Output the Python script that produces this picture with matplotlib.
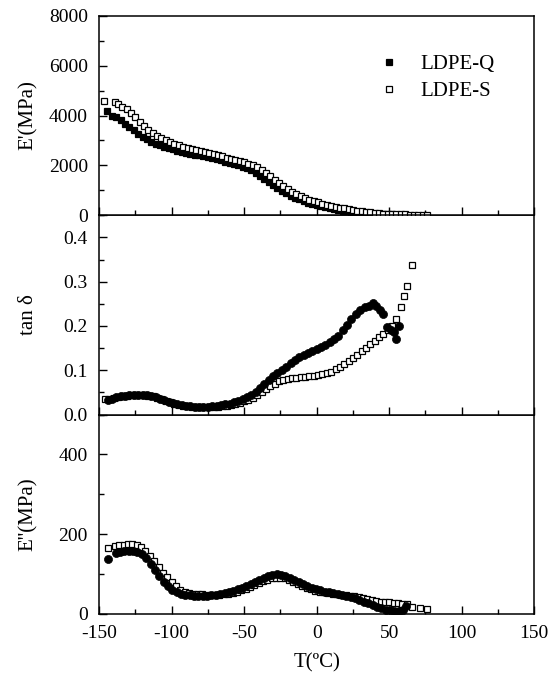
import numpy as np
import matplotlib
matplotlib.use('Agg')
import matplotlib.pyplot as plt
from matplotlib.lines import Line2D
from matplotlib.ticker import MultipleLocator

plt.rcParams['font.family'] = ['Liberation Serif', 'DejaVu Serif']
plt.rcParams['font.size'] = 14
plt.rcParams['axes.unicode_minus'] = False

# storage modulus E' (MPa)
t_eq = [-144.7, -141, -138, -135, -132, -129, -126, -123, -120, -117, -114, -111, -108, -105,
        -102, -99, -96, -93, -90, -87, -84, -81, -78, -75, -72, -69, -66, -63, -60, -57,
        -54, -51, -48, -45, -42, -39, -36, -33, -30, -27, -24, -21, -18, -15, -12, -9,
        -6, -3, 0, 3, 6, 9, 12, 15, 18, 21, 24, 27, 30, 33, 36, 39, 42, 45, 48, 51, 54, 57, 60]
e_q = [4190, 3990, 3950, 3820, 3680, 3540, 3400, 3270, 3150, 3040, 2950, 2870, 2800, 2740,
       2690, 2640, 2590, 2550, 2510, 2470, 2430, 2400, 2360, 2320, 2280, 2240, 2200, 2150,
       2110, 2060, 2010, 1950, 1880, 1800, 1700, 1590, 1470, 1340, 1210, 1090, 980, 880,
       790, 710, 640, 570, 510, 460, 410, 360, 320, 280, 245, 215, 185, 160, 140, 120,
       100, 85, 70, 60, 50, 42, 36, 30, 25, 22, 20]

t_es = [-146.6, -139.3, -137, -134, -131, -128, -125, -122, -119, -116, -113, -110, -107,
        -104, -101, -98, -95, -92, -89, -86, -83, -80, -77, -74, -71, -68, -65, -62, -59,
        -56, -53, -50, -47, -44, -41, -38, -35, -32, -29, -26, -23, -20, -17, -14, -11, -8,
        -5, -2, 1, 4, 7, 10, 13, 16, 19, 22, 25, 28, 31, 34, 37, 40, 43, 46, 49, 52, 55,
        58, 61, 64, 67, 70, 73, 76]
e_s = [4590, 4550, 4450, 4350, 4250, 4100, 3950, 3750, 3580, 3420, 3300, 3180, 3080, 3000,
       2920, 2860, 2800, 2740, 2690, 2640, 2600, 2560, 2520, 2480, 2440, 2400, 2360, 2310,
       2260, 2220, 2170, 2120, 2070, 2000, 1920, 1820, 1700, 1570, 1430, 1300, 1160, 1040,
       930, 840, 760, 690, 620, 570, 520, 470, 420, 380, 340, 300, 270, 240, 215, 185, 160,
       135, 115, 95, 80, 68, 58, 50, 44, 38, 33, 28, 25, 22, 20, 18]

# loss factor tan delta
t_tq = [-144, -141, -138, -135, -132, -129, -126, -123, -120, -117, -114, -111, -108, -105,
        -102, -99, -96, -93, -90, -87, -84, -81, -78, -75, -72, -69, -66, -63, -60, -57,
        -54, -51, -48, -45, -42, -39, -36, -33, -30, -27, -24, -21, -18, -15, -12, -9, -6,
        -3, 0, 3, 6, 9, 12, 15, 18, 21, 24, 27, 30, 33, 36, 38.5, 41, 43.5, 46, 48.5, 51,
        53, 54.5, 57]
tan_q = [0.033, 0.036, 0.039, 0.041, 0.043, 0.044, 0.045, 0.045, 0.045, 0.044, 0.042, 0.039,
         0.036, 0.032, 0.029, 0.026, 0.023, 0.021, 0.020, 0.019, 0.018, 0.018, 0.018, 0.018,
         0.019, 0.020, 0.021, 0.023, 0.025, 0.028, 0.031, 0.035, 0.040, 0.045, 0.052, 0.060,
         0.069, 0.078, 0.086, 0.093, 0.100, 0.108, 0.117, 0.124, 0.129, 0.134, 0.139, 0.143,
         0.148, 0.153, 0.158, 0.164, 0.170, 0.177, 0.190, 0.203, 0.215, 0.226, 0.236, 0.243,
         0.246, 0.251, 0.244, 0.236, 0.228, 0.198, 0.192, 0.186, 0.170, 0.200]

t_ts = [-146, -143, -140, -137, -134, -131, -128, -125, -122, -119, -116, -113, -110, -107,
        -104, -101, -98, -95, -92, -89, -86, -83, -80, -77, -74, -71, -68, -65, -62, -59,
        -56, -53, -50, -47, -44, -41, -38, -35, -32, -29, -26, -23, -20, -17, -14, -11, -8,
        -5, -2, 1, 4, 7, 10, 13, 16, 19, 22, 25, 28, 31, 34, 37, 40, 43, 46, 49, 52, 55, 58,
        60.5, 62.5, 66]
tan_s = [0.036, 0.036, 0.038, 0.040, 0.042, 0.043, 0.044, 0.045, 0.045, 0.044, 0.043, 0.041,
         0.038, 0.035, 0.031, 0.028, 0.025, 0.022, 0.020, 0.019, 0.018, 0.017, 0.017, 0.017,
         0.017, 0.017, 0.018, 0.019, 0.020, 0.022, 0.024, 0.027, 0.030, 0.034, 0.038, 0.044,
         0.050, 0.057, 0.064, 0.070, 0.075, 0.078, 0.080, 0.082, 0.083, 0.084, 0.085, 0.086,
         0.087, 0.089, 0.091, 0.094, 0.097, 0.102, 0.108, 0.114, 0.121, 0.128, 0.135, 0.143,
         0.151, 0.159, 0.167, 0.175, 0.182, 0.190, 0.200, 0.215, 0.242, 0.268, 0.291, 0.338]

# loss modulus E'' (MPa)
t_lq = [-143.5, -138.5, -135.5, -132.5, -129.5, -126.5, -123.5, -120.5, -117.5, -114.5,
        -111.5, -108.5, -105.5, -102.5, -99.5, -96.5, -93.5, -90.5, -87.5, -84.5, -81.5,
        -78.5, -75.5, -72.5, -69.5, -66.5, -63.5, -60.5, -57.5, -54.5, -51.5, -48.5, -45.5,
        -42.5, -39.5, -36.5, -33.5, -30.5, -27.5, -24.5, -21.5, -18.5, -15.5, -12.5, -9.5,
        -6.5, -3.5, -0.5, 2.5, 5.5, 8.5, 11.5, 14.5, 17.5, 20.5, 23.5, 26.5, 29.5, 32.5,
        35.5, 38.5, 41.5, 44.5, 47.5, 50.5, 53.5, 56.5, 59.5, 61.5]
el_q = [137, 152, 155, 157, 158, 158, 156, 150, 140, 126, 110, 95, 81, 70, 61, 55, 51, 48,
        47, 46, 46, 46, 46, 47, 48, 50, 52, 55, 58, 62, 66, 71, 76, 81, 86, 91, 95, 98, 99,
        98, 95, 90, 84, 79, 74, 70, 66, 62, 59, 56, 54, 52, 50, 48, 46, 43, 40, 36, 31, 27,
        22, 18, 14, 11, 9, 8, 8, 9, 19]

t_ls = [-144, -139, -136, -133, -130, -127, -124, -121, -118, -115, -112, -109, -106, -103,
        -100, -97, -94, -91, -88, -85, -82, -79, -76, -73, -70, -67, -64, -61, -58, -55, -52,
        -49, -46, -43, -40, -37, -34, -31, -28, -25, -22, -19, -16, -13, -10, -7, -4, -1, 2,
        5, 8, 11, 14, 17, 20, 23, 26, 29, 32, 35, 38, 41, 44, 47, 50, 53, 56, 59, 62, 65.5,
        71, 76]
el_s = [165, 170, 172, 174, 175, 175, 173, 167, 158, 146, 132, 118, 104, 92, 80, 69, 61, 56,
        53, 51, 50, 49, 48, 47, 47, 48, 49, 50, 52, 55, 59, 63, 68, 73, 78, 82, 86, 89, 91,
        91, 89, 85, 80, 75, 70, 66, 62, 58, 56, 54, 52, 50, 49, 48, 47, 46, 45, 43, 41, 38,
        35, 33, 31, 30, 29, 28, 27, 26, 24, 18, 14, 12]

fig = plt.figure(figsize=(5.51, 6.77), dpi=100)
left, width, h = 0.1797, 0.790, 0.2945
ax3 = fig.add_axes([left, 0.0931, width, h])
ax2 = fig.add_axes([left, 0.0931 + h, width, h], sharex=ax3)
ax1 = fig.add_axes([left, 0.0931 + 2 * h, width, h], sharex=ax3)

sq_open = dict(ls='none', marker='s', ms=4.8, mfc='white', mec='black', mew=0.9)
sq_fill = dict(ls='none', marker='s', ms=4.8, mfc='black', mec='black', mew=0.9)
circ = dict(ls='none', marker='o', ms=5.8, mfc='black', mec='black', mew=0.5)

ax1.plot(t_eq, e_q, **sq_fill)
ax1.plot(t_es, e_s, **sq_open)
ax2.plot(t_ts, tan_s, **sq_open)
ax2.plot(t_tq, tan_q, **circ)
ax3.plot(t_ls, el_s, **sq_open)
ax3.plot(t_lq, el_q, **circ)

ax3.set_xlim(-150, 150)
ax1.set_ylim(0, 8000)
ax2.set_ylim(0, 0.45)
ax3.set_ylim(0, 500)

ax1.yaxis.set_major_locator(MultipleLocator(2000))
ax1.yaxis.set_minor_locator(MultipleLocator(1000))
ax2.set_yticks([0.0, 0.1, 0.2, 0.3, 0.4])
ax2.set_yticklabels(['0.0', '0.1', '0.2', '0.3', '0.4'])
ax2.yaxis.set_minor_locator(MultipleLocator(0.05))
ax3.set_yticks([0, 200, 400])
ax3.yaxis.set_minor_locator(MultipleLocator(100))
ax3.xaxis.set_major_locator(MultipleLocator(50))
ax3.xaxis.set_minor_locator(MultipleLocator(25))

for ax in (ax1, ax2, ax3):
    ax.tick_params(which='both', direction='in', top=False, right=False, labelsize=14)
    ax.tick_params(which='major', length=6, width=1)
    ax.tick_params(which='minor', length=3.5, width=1)
    ax.tick_params(axis='y', which='both', pad=8)
    ax.tick_params(axis='x', which='both', pad=8)
    for s in ax.spines.values():
        s.set_linewidth(1.1)
for ax in (ax1, ax2):
    ax.tick_params(labelbottom=False)

ax1.set_ylabel("E'(MPa)", fontsize=15)
ax2.set_ylabel("tan δ", fontsize=15)
ax3.set_ylabel("E''(MPa)", fontsize=15)
ax3.set_xlabel("T(ºC)", fontsize=15, labelpad=8)
for ax in (ax1, ax2, ax3):
    ax.yaxis.set_label_coords(-0.14, 0.5)

handles = [Line2D([], [], label='LDPE-Q', **sq_fill),
           Line2D([], [], label='LDPE-S', **sq_open)]
ax1.legend(handles=handles, loc='upper left', bbox_to_anchor=(0.60, 0.90), frameon=False,
           fontsize=15, handlelength=1.0, handletextpad=1.0, labelspacing=0.35)

fig.savefig('out.png', dpi=100)
